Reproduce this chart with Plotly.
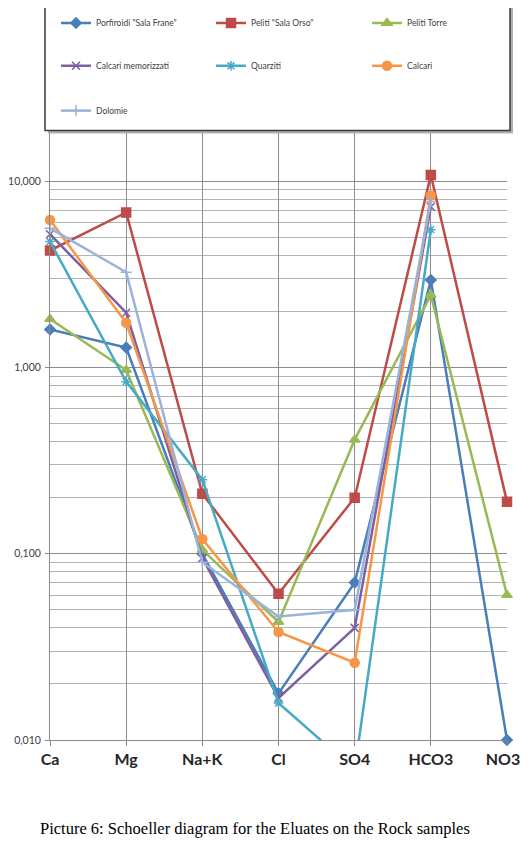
import plotly.graph_objects as go

ions = ["Ca", "Mg", "Na+K", "Cl", "SO4", "HCO3", "NO3"]
# NO3 sits on the right edge; padded so it stays inside, as in the original
ion_labels = ["Ca", "Mg", "Na+K", "Cl", "SO4", "HCO3", "NO3\u2002"]

porfiroidi_sala_frane = [1.60, 1.28, 0.100, 0.0178, 0.070, 2.95, 0.010]
peliti_sala_orso = [4.25, 6.80, 0.210, 0.061, 0.200, 10.8, 0.190]
peliti_torre = [1.82, 0.97, 0.105, 0.043, 0.41, 2.45, 0.060]
calcari_memorizzati = [5.20, 1.97, 0.095, 0.0168, 0.040, 7.3, None]
quarziti = [4.75, 0.84, 0.250, 0.0158, 0.0069, 5.5, None]
calcari = [6.20, 1.74, 0.120, 0.038, 0.026, 8.4, None]
dolomie = [5.60, 3.25, 0.090, 0.046, 0.050, 7.8, None]

# name, values, colour, marker, marker size
series = [
    ('Porfiroidi "Sala Frane"', porfiroidi_sala_frane, "#4A7EBB", "diamond", 8),
    ('Peliti "Sala Orso"', peliti_sala_orso, "#BE4B48", "square", 9),
    ("Peliti Torre", peliti_torre, "#98B954", "triangle-up", 9),
    ("Calcari memorizzati", calcari_memorizzati, "#7D60A0", "x-thin", 8),
    ("Quarziti", quarziti, "#46AAC5", "asterisk", 8),
    ("Calcari", calcari, "#F79646", "circle", 9),
    ("Dolomie", dolomie, "#9BB3DA", "cross-thin", 8),
]

# legend slots in window pixels (3 columns x 3 rows inside the box)
legend_cols = [56, 211, 367]
legend_rows = [20, 63, 108]

# the page body adds an 8px margin
OFF = 8
W, H = 529 - 2 * OFF, 841 - OFF
L, R, T, B = 42, 14, 0, 101
pw, ph = W - L - R, H - T - B


def px_x(x):
    # x in window pixels -> paper fraction
    return (x - OFF - L) / pw


def px_y(y):
    # y in window pixels -> paper fraction
    return (H - B - (y - OFF)) / ph


fig = go.Figure()
legends = {}
for i, (name, values, color, symbol, size) in enumerate(series):
    key = "legend" if i == 0 else f"legend{i + 1}"
    fig.add_trace(go.Scatter(
        x=ions,
        y=values,
        name=name,
        mode="lines+markers",
        line=dict(color=color, width=2.5),
        marker=dict(symbol=symbol, size=size, color=color,
                    line=dict(color=color, width=1.5)),
        cliponaxis=False,
        legend=key,
    ))
    legends[key] = dict(
        orientation="h",
        xanchor="left",
        yanchor="middle",
        x=px_x(legend_cols[i % 3]),
        y=px_y(legend_rows[i // 3]),
        itemwidth=30,
        bgcolor="rgba(0,0,0,0)",
        font=dict(family="Lato", size=8.5, color="#404040"),
    )

fig.update_layout(
    width=W,
    height=H,
    margin=dict(l=L, r=R, t=T, b=B),
    paper_bgcolor="white",
    plot_bgcolor="white",
    separators=",.",
    showlegend=True,
    xaxis=dict(
        type="category",
        range=[0, 6],
        tickvals=ions,
        ticktext=ion_labels,
        automargin=False,
        showgrid=True,
        gridcolor="#8c8c8c",
        gridwidth=1,
        showline=True,
        linecolor="#8c8c8c",
        ticks="outside",
        ticklen=5,
        tickcolor="#8c8c8c",
        tickfont=dict(family="Lato", size=16, color="#262626", weight="bold"),
        zeroline=False,
    ),
    yaxis=dict(
        type="log",
        range=[-2, -2 + ph / 187],
        automargin=False,
        dtick=1,
        tickformat=".3f",
        showgrid=True,
        gridcolor="#8c8c8c",
        showline=True,
        linecolor="#8c8c8c",
        ticks="outside",
        ticklen=4,
        tickcolor="#8c8c8c",
        ticklabelstandoff=2,
        tickfont=dict(family="Lato", size=10.5, color="#404040"),
        minor=dict(dtick="D1", showgrid=True, gridcolor="#b4b4b4", ticks=""),
        zeroline=False,
    ),
    shapes=[
        dict(type="rect", xref="paper", yref="paper",
             x0=px_x(48), x1=px_x(513), y0=px_y(131), y1=px_y(-10),
             fillcolor="#b0b0b0", line=dict(width=0), layer="above"),
        dict(type="rect", xref="paper", yref="paper",
             x0=px_x(45), x1=px_x(510), y0=px_y(128), y1=px_y(-10),
             fillcolor="white", line=dict(color="#3a3a3a", width=1.5), layer="above"),
    ],
    annotations=[
        dict(text="Picture 6: Schoeller diagram for the Eluates on the Rock samples",
             xref="paper", yref="paper", x=px_x(255), y=px_y(829),
             xanchor="center", yanchor="middle", showarrow=False,
             font=dict(family="Liberation Serif", size=16.5, color="black")),
    ],
    **legends,
)

fig.write_html("out.html")
